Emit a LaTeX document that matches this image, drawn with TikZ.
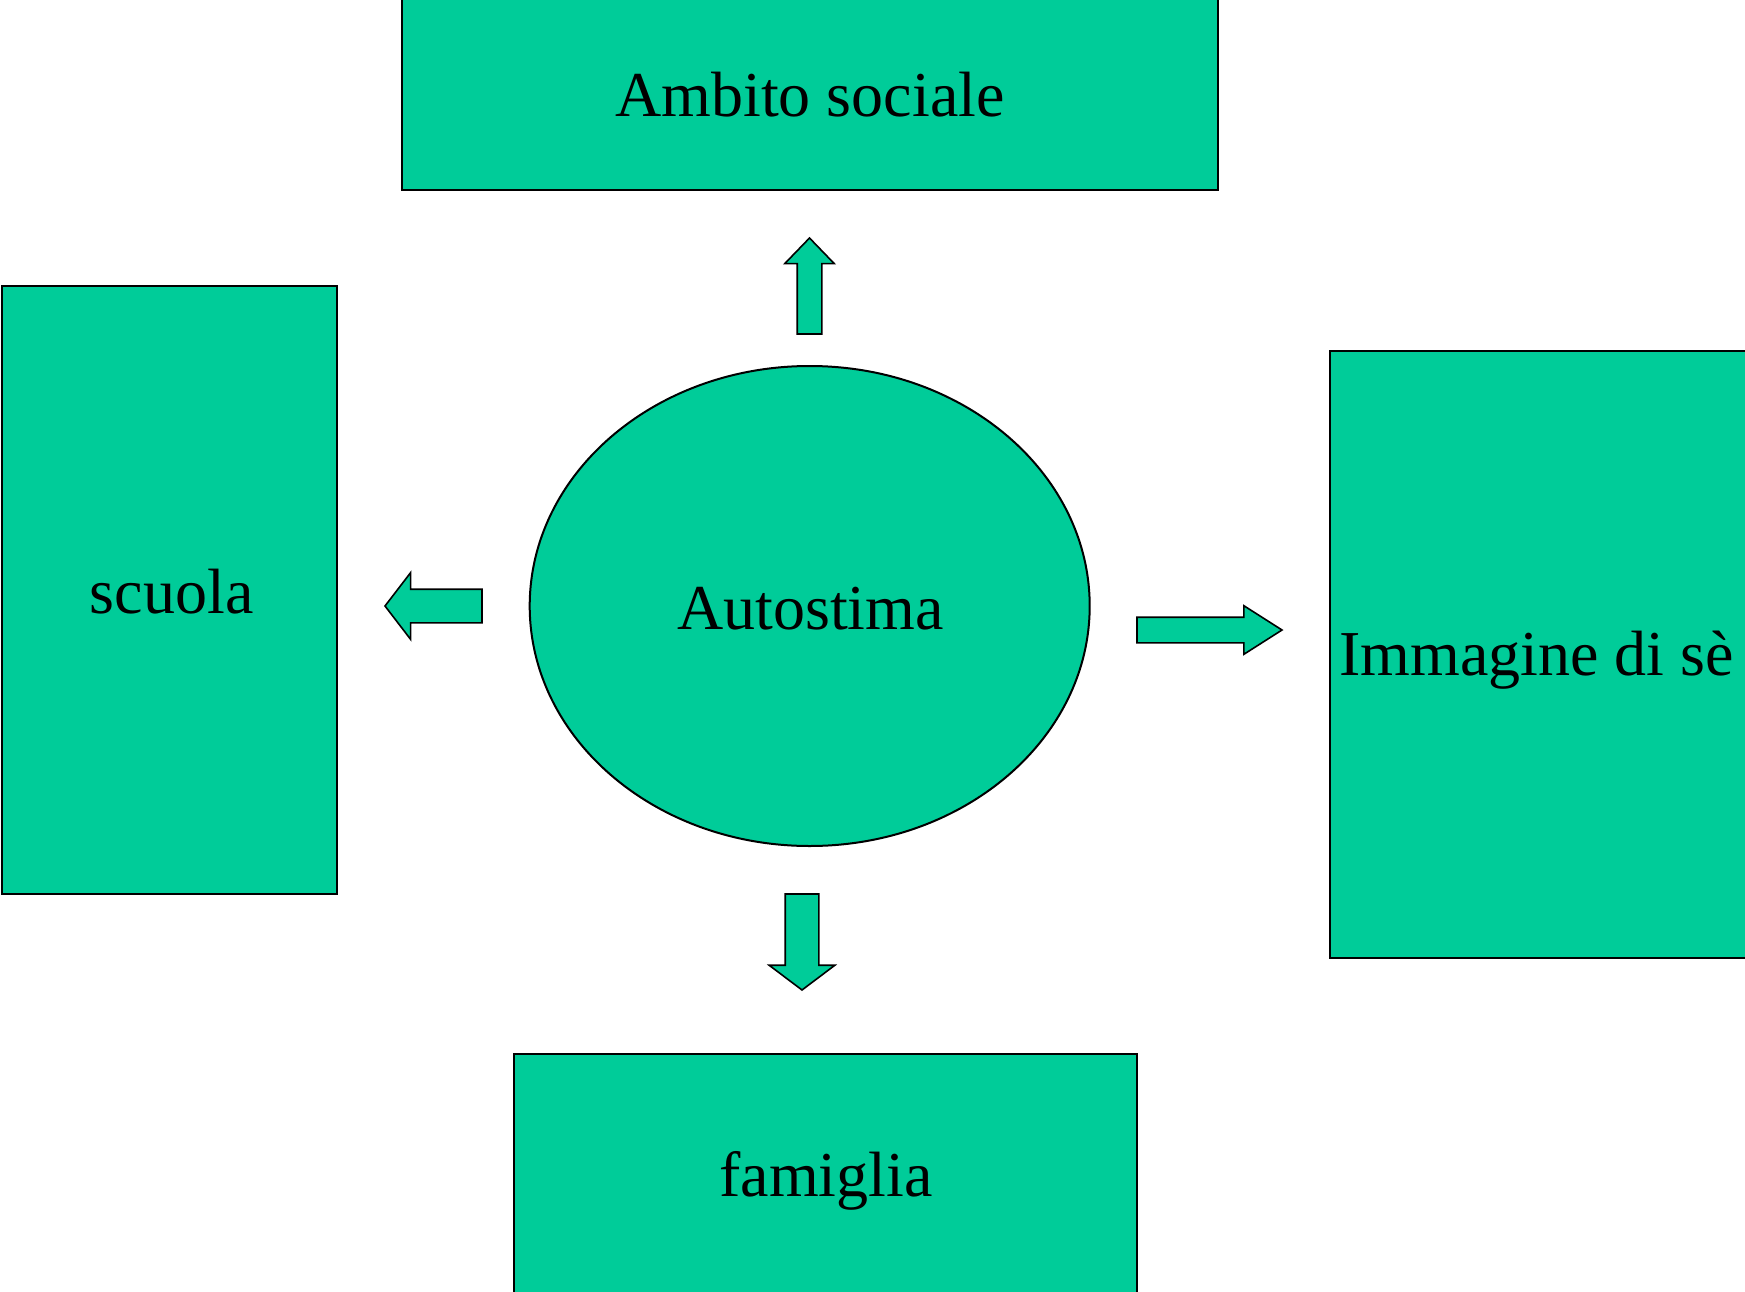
\documentclass[tikz,border=0pt]{standalone}
\usepackage{fontspec}
\setmainfont{Liberation Serif}
\usetikzlibrary{shapes.geometric,shapes.arrows,positioning}

\definecolor{seagreen}{HTML}{00CC99}

\tikzset{
  panel/.style={rectangle, draw, fill=seagreen, line width=2pt, inner sep=0pt, outer sep=0pt},
  blob/.style={ellipse, draw, fill=seagreen, line width=2pt, inner sep=0pt, outer sep=0pt},
  word/.style={font=\fontsize{64}{70}\selectfont, inner sep=0pt, anchor=base},
  pointer/.style={single arrow, draw, fill=seagreen, line width=1.6pt, outer sep=0pt, anchor=tail}
}

\begin{document}
\begin{tikzpicture}[x=1pt, y=-1pt]
        \useasboundingbox (0,0) rectangle (1745,1292);

        \node[blob, minimum width=560pt, minimum height=480pt] (auto) at (809.7,606) {};

        \node[panel, minimum width=816pt, minimum height=220pt, above=176pt of auto] (sociale) {};
        \node[panel, minimum width=623pt, minimum height=280pt, below=208pt of auto, xshift=16pt] (famiglia) {};
        \node[panel, minimum width=335pt, minimum height=608pt, left=192.7pt of auto, yshift=16pt] (scuola) {};
        \node[panel, minimum width=440pt, minimum height=607pt, right=240.3pt of auto, yshift=-48.5pt] (immagine) {};

        \node[pointer, inner sep=11.5pt, single arrow head extend=12.5pt, minimum width=48pt,
              minimum height=96pt, single arrow tip angle=88, shape border rotate=90] (su) at (809.5,334) {};
        \node[pointer, inner sep=16pt, single arrow head extend=16.5pt, minimum width=65pt,
              minimum height=97pt, single arrow tip angle=105, shape border rotate=180] (sx) at (482,606) {};
        \node[pointer, inner sep=12pt, single arrow head extend=11.5pt, minimum width=47pt,
              minimum height=145pt, single arrow tip angle=65] (dx) at (1137,630) {};
        \node[pointer, inner sep=16pt, single arrow head extend=16pt, minimum width=64pt,
              minimum height=96pt, single arrow tip angle=106, shape border rotate=270] (giu) at (802,894) {};

        \node[word] (t-auto) at (810.5,629) {Autostima};
        \node[word] (t-sociale) at (810,117) {Ambito sociale};
        \node[word] (t-scuola) at (171.7,613) {scuola};
        \node[word] (t-immagine) at (1536.5,675) {Immagine di sè};
        \node[word] (t-famiglia) at (826,1196) {famiglia};
    \end{tikzpicture}
\end{document}
